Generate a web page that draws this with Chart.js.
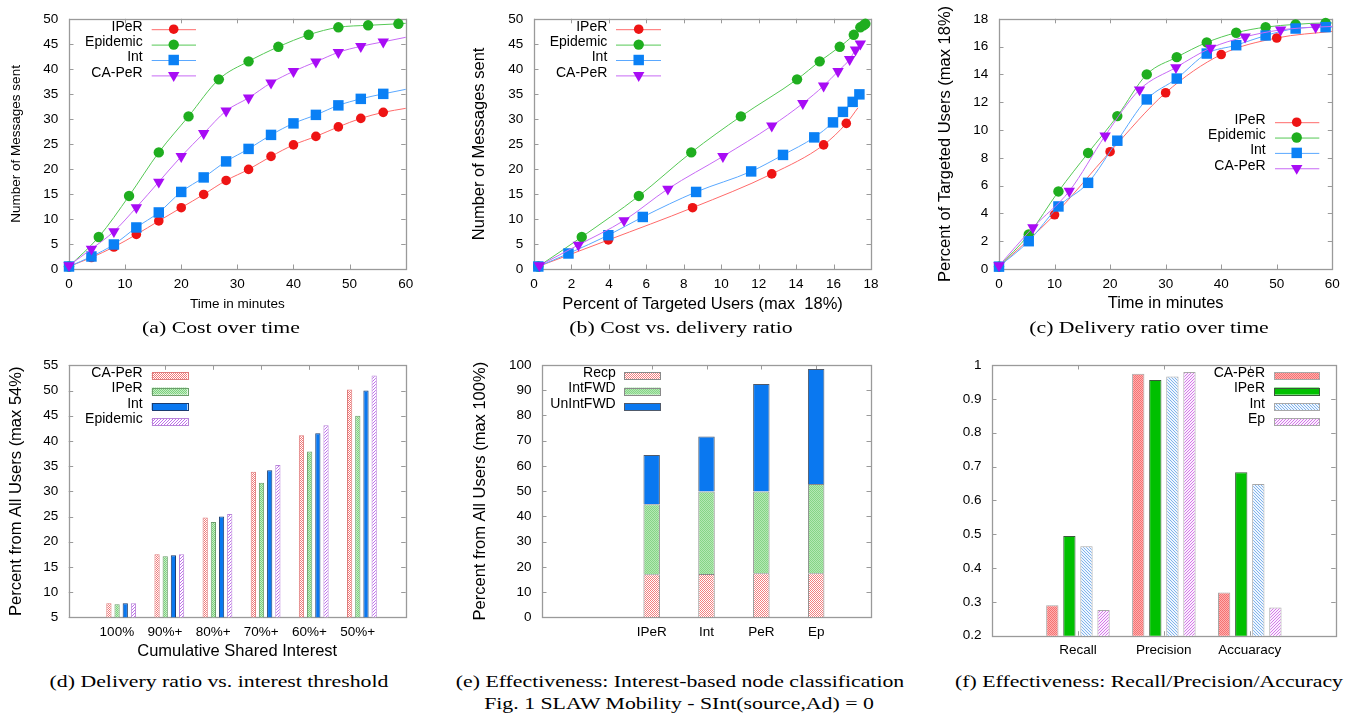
<!DOCTYPE html>
<html><head><meta charset="utf-8">
<script src="https://cdn.jsdelivr.net/npm/chart.js@4.4.1/dist/chart.umd.min.js"></script>
<style>
html,body{margin:0;padding:0;background:#fff}
body{width:1347px;height:717px;position:relative;overflow:hidden;font-family:'Liberation Serif','Times New Roman',serif;color:#000}
canvas{position:absolute}
.cap{position:absolute;font-size:17.5px;line-height:20px;white-space:nowrap;transform:translateX(-50%) scaleX(1.245);transform-origin:50% 50%}
</style></head><body>
<canvas id="pa" width="450" height="320" style="left:0;top:0"></canvas>
<canvas id="pb" width="450" height="320" style="left:450px;top:0"></canvas>
<canvas id="pc" width="447" height="320" style="left:900px;top:0"></canvas>
<canvas id="pd" width="450" height="330" style="left:0;top:340px"></canvas>
<canvas id="pe" width="450" height="330" style="left:450px;top:340px"></canvas>
<canvas id="pf" width="447" height="330" style="left:900px;top:340px"></canvas>
<div class="cap" style="left:221px;top:317px">(a) Cost over time</div>
<div class="cap" style="left:681px;top:317px">(b) Cost vs. delivery ratio</div>
<div class="cap" style="left:1149px;top:317px">(c) Delivery ratio over time</div>
<div class="cap" style="left:219px;top:671px">(d) Delivery ratio vs. interest threshold</div>
<div class="cap" style="left:680px;top:671px">(e) Effectiveness: Interest-based node classification</div>
<div class="cap" style="left:1149px;top:671px">(f) Effectiveness: Recall/Precision/Accuracy</div>
<div class="cap" style="left:679px;top:693px">Fig. 1 SLAW Mobility - SInt(source,Ad) = 0</div>
<script>
// ---------------- DATA ----------------
// (a) Cost over time  (x: minutes, y: number of messages sent)
const aIPeRX = [0,4,8,12,16,20,24,28,32,36,40,44,48,52,56,60];
const aIPeRY = [0.5,2.3,4.4,6.9,9.6,12.25,14.9,17.7,19.9,22.5,24.8,26.5,28.4,30.1,31.3,32.1];
const aEpiX  = [0,5.3,10.7,16,21.3,26.7,32,37.3,42.7,48,53.3,58.7,60];
const aEpiY  = [0.5,6.4,14.6,23.3,30.5,37.9,41.5,44.4,46.8,48.3,48.7,49.0,49.1];
const aIntX  = [0,4,8,12,16,20,24,28,32,36,40,44,48,52,56,60];
const aIntY  = [0.5,2.5,4.9,8.3,11.3,15.4,18.3,21.5,24.0,26.8,29.1,30.8,32.7,34.0,35.0,35.9];
const aCAX   = [0,4,8,12,16,20,24,28,32,36,40,44,48,52,56,60];
const aCAY   = [0.7,4.0,7.5,12.3,17.4,22.5,27.1,31.6,34.2,37.2,39.5,41.4,43.3,44.5,45.4,46.3];
// (b) Cost vs. delivery ratio (x: % targeted users, y: messages sent)
const bIPeRX = [0.23,3.97,8.47,12.7,15.47,16.68,17.3];
const bIPeRY = [0.5,5.8,12.25,19.0,24.8,29.1,32.2];
const bEpiX  = [0.23,2.55,5.6,8.4,11.05,14.05,15.26,16.33,17.08,17.43,17.6,17.7];
const bEpiY  = [0.5,6.4,14.6,23.3,30.5,37.9,41.5,44.4,46.8,48.3,48.7,49.0];
const bIntX  = [0.23,1.84,3.97,5.81,8.66,11.6,13.3,14.97,15.97,16.5,17.02,17.38];
const bIntY  = [0.5,3.1,6.75,10.4,15.4,19.5,22.8,26.3,29.3,31.4,33.4,34.9];
const bCAX   = [0.29,2.37,4.81,7.15,10.09,12.7,14.36,15.47,16.24,16.86,17.17,17.43];
const bCAY   = [0.7,4.8,9.7,16.0,22.5,28.6,33.1,36.6,39.5,41.9,43.8,45.0];
// (c) Delivery ratio over time (x: minutes, y: % targeted users)
const cIPeRX = [0,10,20,30,40,50,60];
const cIPeRY = [0.17,3.9,8.44,12.68,15.43,16.62,17.1];
const cEpiX  = [0,5.35,10.7,16.04,21.3,26.6,32,37.4,42.7,48,53.4,58.8,60];
const cEpiY  = [0.17,2.48,5.58,8.35,11.0,14.0,15.24,16.3,17.0,17.4,17.6,17.7,17.7];
const cIntX  = [0,5.35,10.7,16.04,21.3,26.6,32,37.4,42.7,48,53.4,58.8,60];
const cIntY  = [0.17,2.0,4.5,6.2,9.23,12.2,13.7,15.5,16.1,16.8,17.3,17.4,17.4];
const cCAX   = [0,6.1,12.65,19.1,25.3,31.85,38.1,44.3,50.7,57,60];
const cCAY   = [0.24,2.98,5.6,9.58,12.9,14.5,15.9,16.7,17.2,17.4,17.45];
// (d) Delivery ratio vs interest threshold
const dCategories = ['100%','90%+','80%+','70%+','60%+','50%+'];
const dCAPeR    = [7.8,17.5,24.8,33.9,41.1,50.2];
const dIPeR     = [7.6,17.1,23.9,31.7,37.9,45.0];
const dInt      = [7.8,17.3,25.0,34.2,41.5,50.0];
const dEpidemic = [7.8,17.5,25.5,35.2,43.1,53.0];
// (e) Interest-based node classification (stacked)
const eCategories = ['IPeR','Int','PeR','Ep'];
const eRecp     = [17.1,17.2,17.5,17.5];
const eIntFWD   = [27.7,32.7,32.4,35.3];
const eUnIntFWD = [19.5,21.8,42.6,45.6];
// (f) Recall / Precision / Accuracy
const fCategories = ['Recall','Precision','Accuaracy'];
const fCAPeR = [0.29,0.974,0.328];
const fIPeR  = [0.495,0.956,0.683];
const fInt   = [0.464,0.966,0.648];
const fEp    = [0.276,0.979,0.283];
// tick values
const aXTicks = [0,10,20,30,40,50,60];
const aYTicks = [0,5,10,15,20,25,30,35,40,45,50];
const bXTicks = [0,2,4,6,8,10,12,14,16,18];
const bYTicks = [0,5,10,15,20,25,30,35,40,45,50];
const cXTicks = [0,10,20,30,40,50,60];
const cYTicks = [0,2,4,6,8,10,12,14,16,18];
const dYTicks = [5,10,15,20,25,30,35,40,45,50,55];
const eYTicks = [0,10,20,30,40,50,60,70,80,90,100];
const fYTicks = [0.2,0.3,0.4,0.5,0.6,0.7,0.8,0.9,1];

// ---------------- STYLE / HELPERS ----------------
const FONT = "'Liberation Sans', Arial, Helvetica, sans-serif";
Chart.defaults.font.family = FONT;
Chart.defaults.color = '#000';
Chart.defaults.animation = false;
const TICK = 13.5;

function makePattern(size, paint){
  const c = document.createElement('canvas'); c.width = c.height = size;
  const g = c.getContext('2d'); paint(g, size);
  return document.createElement('canvas').getContext('2d').createPattern(c, 'repeat');
}
const checker = (bg, fg) => makePattern(2, g => { g.fillStyle = bg; g.fillRect(0,0,2,2); g.fillStyle = fg; g.fillRect(0,0,1,1); g.fillRect(1,1,1,1); });
const diag = (bg, fg, dir, s) => makePattern(s, g => { g.fillStyle = bg; g.fillRect(0,0,s,s); g.fillStyle = fg; for (let i=0;i<s;i++) g.fillRect(dir>0 ? s-1-i : i, i, 1, 1); });

const tickSet = arr => s => { s.ticks = arr.map(v => ({value: v})); };
const fixW = w => s => { s.width = w; };
const fixH = h => s => { s.height = h; };

function framePlugin(xShift){
  return { id:'gpFrame', beforeDatasetsDraw(chart){
    const {ctx, chartArea:a, scales} = chart; const L = 4.5;
    ctx.save(); ctx.strokeStyle = '#9a9a9a'; ctx.lineWidth = 1; ctx.beginPath();
    scales.x.ticks.forEach((t,i) => { const p = Math.round(scales.x.getPixelForTick(i) + (xShift||0)) + 0.5;
      ctx.moveTo(p, a.bottom); ctx.lineTo(p, a.bottom - L); ctx.moveTo(p, a.top); ctx.lineTo(p, a.top + L); });
    scales.y.ticks.forEach((t,i) => { const p = Math.round(scales.y.getPixelForTick(i)) + 0.5;
      ctx.moveTo(a.left, p); ctx.lineTo(a.left + L, p); ctx.moveTo(a.right, p); ctx.lineTo(a.right - L, p); });
    ctx.stroke();
    ctx.lineWidth = 1.3;
    ctx.strokeRect(Math.round(a.left)+0.5, Math.round(a.top)+0.5, Math.round(a.right - a.left), Math.round(a.bottom - a.top));
    ctx.restore();
  }};
}
function legendPlugin(cfg){
  return { id:'gpLegend', afterDraw(chart){
    const {ctx, chartArea:a} = chart;
    chart.data.datasets.forEach((ds, i) => {
      const y = a.top + cfg.y0 + i*cfg.dy;
      ctx.save();
      ctx.font = '14px ' + FONT; ctx.fillStyle = '#000'; ctx.textAlign = 'right'; ctx.textBaseline = 'middle';
      ctx.fillText(ds.label, a.left + cfg.tx, y - 2.5);
      if (cfg.kind === 'line') {
        ctx.strokeStyle = ds.borderColor; ctx.lineWidth = 1;
        ctx.beginPath(); ctx.moveTo(a.left + cfg.x1, y + 0.5); ctx.lineTo(a.left + cfg.x2, y + 0.5); ctx.stroke();
        ctx.fillStyle = ds.pointBackgroundColor; ctx.strokeStyle = ds.pointBackgroundColor;
        Chart.helpers.drawPoint(ctx, {pointStyle: ds.pointStyle, radius: ds.mr, rotation: ds.pointRotation, borderWidth: 0}, a.left + cfg.xm, y);
      } else {
        ctx.fillStyle = ds.backgroundColor; ctx.fillRect(a.left + cfg.x1, y - 3.5, cfg.x2 - cfg.x1, 7);
        ctx.strokeStyle = ds.borderColor; ctx.lineWidth = 1;
        ctx.strokeRect(Math.round(a.left + cfg.x1) + 0.5, Math.round(y - 3.5) + 0.5, Math.round(cfg.x2 - cfg.x1), 7);
      }
      ctx.restore();
    });
  }};
}

const SER = {
  IPeR:  {c:'#ee1414', l:'#ff6a6a', s:'circle', r:4.8, rot:0},
  Epi:   {c:'#1fae1f', l:'#55c855', s:'circle', r:5.2, rot:0},
  Int:   {c:'#0a80f5', l:'#5aa8ff', s:'rect',   r:7.4, rot:0},
  CA:    {c:'#a80cf5', l:'#c76af5', s:'triangle', r:6.6, rot:180}
};
function lineDS(label, key, xs, ys, tail, order){
  const st = SER[key];
  return { label, data: xs.map((x,i) => ({x, y: ys[i]})), borderColor: st.l, borderWidth: 1,
    backgroundColor: st.c, pointBackgroundColor: st.c, pointBorderColor: st.c, pointBorderWidth: 0,
    pointStyle: st.s, mr: st.r, pointRotation: st.rot, order,
    pointRadius: ctx => (tail && ctx.dataIndex === xs.length - 1) ? 0 : st.r,
    pointHoverRadius: st.r, cubicInterpolationMode: 'monotone', clip: false };
}
function lineChart(id, cfg){
  return new Chart(document.getElementById(id), {
    type: 'line',
    data: { datasets: cfg.datasets },
    options: {
      responsive: false, animation: false, events: [],
      layout: { padding: { left: 0, top: cfg.top, right: cfg.right, bottom: 0 } },
      plugins: { legend: {display:false}, tooltip: {enabled:false} },
      scales: {
        x: { type:'linear', min: cfg.xMin, max: cfg.xMax, afterBuildTicks: tickSet(cfg.xTicks), afterFit: fixH(51),
             grid: {display:false, drawTicks:false}, border: {display:false},
             ticks: {padding: 7.2, font:{size: TICK}, maxRotation:0, autoSkip:false},
             title: {display:true, text: cfg.xTitle, font:{size: cfg.tf}, padding:{top:0, bottom: cfg.xtp}} },
        y: { type:'linear', min: cfg.yMin, max: cfg.yMax, afterBuildTicks: tickSet(cfg.yTicks), afterFit: fixW(cfg.yw),
             grid: {display:false, drawTicks:false}, border: {display:false},
             ticks: {padding: 10.7, font:{size: TICK}, autoSkip:false},
             title: {display:true, text: cfg.yTitle, font:{size: cfg.tf}, padding:{top: cfg.ytp, bottom:0}} }
      }
    },
    plugins: [framePlugin(0), legendPlugin(cfg.legend)]
  });
}

// ---------------- (a) ----------------
lineChart('pa', {
  top: 17.3, right: 44.3, yw: 69, tf: 13.5, xtp: 7.6, ytp: 8,
  xMin: 0, xMax: 60, yMin: 0, yMax: 50, xTicks: aXTicks, yTicks: aYTicks,
  xTitle: 'Time in minutes', yTitle: 'Number of Messages sent',
  legend: {kind:'line', tx: 73.7, x1: 82.7, x2: 127, xm: 104.7, y0: 10.4, dy: 15.4},
  datasets: [
    lineDS('IPeR', 'IPeR', aIPeRX, aIPeRY, true, 4),
    lineDS('Epidemic', 'Epi', aEpiX, aEpiY, true, 3),
    lineDS('Int', 'Int', aIntX, aIntY, true, 2),
    lineDS('CA-PeR', 'CA', aCAX, aCAY, true, 1)
  ]
});
// ---------------- (b) ----------------
lineChart('pb', {
  top: 17.3, right: 29, yw: 84, tf: 16.5, xtp: 6.1, ytp: 20,
  xMin: 0, xMax: 18, yMin: 0, yMax: 50, xTicks: bXTicks, yTicks: bYTicks,
  xTitle: 'Percent of Targeted Users (max  18%)', yTitle: 'Number of Messages sent',
  legend: {kind:'line', tx: 73.3, x1: 82, x2: 127, xm: 104.7, y0: 10.4, dy: 15.4},
  datasets: [
    lineDS('IPeR', 'IPeR', bIPeRX, bIPeRY, true, 4),
    lineDS('Epidemic', 'Epi', bEpiX, bEpiY, false, 3),
    lineDS('Int', 'Int', bIntX, bIntY, false, 2),
    lineDS('CA-PeR', 'CA', bCAX, bCAY, false, 1)
  ]
});
// ---------------- (c) ----------------
lineChart('pc', {
  top: 17.3, right: 11.3, yw: 99, tf: 16.5, xtp: 6.8, ytp: 35.8,
  xMin: 0, xMax: 60, yMin: 0, yMax: 18, xTicks: cXTicks, yTicks: cYTicks,
  xTitle: 'Time in minutes', yTitle: 'Percent of Targeted Users (max 18%)',
  legend: {kind:'line', tx: 266.7, x1: 276, x2: 320.3, xm: 297.7, y0: 103.4, dy: 15.35},
  datasets: [
    lineDS('IPeR', 'IPeR', cIPeRX, cIPeRY, true, 4),
    lineDS('Epidemic', 'Epi', cEpiX, cEpiY, true, 3),
    lineDS('Int', 'Int', cIntX, cIntY, true, 2),
    lineDS('CA-PeR', 'CA', cCAX, cCAY, true, 1)
  ]
});

// ---------------- bar helpers ----------------
function barChart(id, cfg){
  const first = cfg.first;
  return new Chart(document.getElementById(id), {
    type: 'bar',
    data: { datasets: cfg.datasets.map(d => Object.assign({
      data: d.values.map((v,i) => ({x: i + first, y: v})), borderWidth: 1,
      categoryPercentage: cfg.cp, barPercentage: cfg.bp, borderSkipped: 'start' }, d)) },
    options: {
      responsive: false, animation: false, events: [],
      layout: { padding: { left: 0, top: cfg.top, right: cfg.right, bottom: 0 } },
      plugins: { legend: {display:false}, tooltip: {enabled:false} },
      scales: {
        x: { type:'linear', min: cfg.xMin, max: cfg.xMax, offset:false, stacked: !!cfg.stacked,
             afterBuildTicks: tickSet(cfg.categories.map((c,i) => i + first)), afterFit: fixH(cfg.xh),
             grid: {display:false, drawTicks:false}, border: {display:false},
             ticks: {padding: cfg.xpad, font:{size: TICK}, maxRotation:0, autoSkip:false, labelOffset: cfg.lo || 0,
                     callback: (v, i) => cfg.categories[i]},
             title: {display: !!cfg.xTitle, text: cfg.xTitle || '', font:{size:16.5}, padding:{top:0, bottom: 9.1}} },
        y: { type:'linear', min: cfg.yTicks[0], max: cfg.yTicks[cfg.yTicks.length-1], stacked: !!cfg.stacked,
             afterBuildTicks: tickSet(cfg.yTicks), afterFit: fixW(cfg.yw),
             grid: {display:false, drawTicks:false}, border: {display:false},
             ticks: {padding: 10.4, font:{size: TICK}, autoSkip:false, callback: v => String(+v.toFixed(2))},
             title: {display: !!cfg.yTitle, text: cfg.yTitle || '', font:{size:16.5}, padding:{top: cfg.ytp || 0, bottom:0}} }
      }
    },
    plugins: [framePlugin(cfg.lo || 0), legendPlugin(cfg.legend)]
  });
}
const pinkChk  = checker('#ffffff', '#f07a7a');
const greenChk = checker('#c4efc4', '#7ccf7c');
const purpDiag = diag('#ffffff', '#c070ec', 1, 3);

// ---------------- (d) ----------------
barChart('pd', {
  top: 25.3, right: 44.3, yw: 68.7, xh: 52.7, xpad: 6.6, ytp: 6.1, first: 1, xMin: -0.09, xMax: 6.91,
  cp: 0.68, bp: 0.64, lo: -4.3, categories: dCategories, yTicks: dYTicks,
  xTitle: 'Cumulative Shared Interest', yTitle: 'Percent from All Users (max 54%)',
  legend: {kind:'box', tx: 74, x1: 83, x2: 118.6, y0: 10.4, dy: 15.4},
  datasets: [
    {label:'CA-PeR', values: dCAPeR, backgroundColor: pinkChk, borderColor: '#e07c7c'},
    {label:'IPeR', values: dIPeR, backgroundColor: greenChk, borderColor: '#6a9c6a'},
    {label:'Int', values: dInt, backgroundColor: '#0a78f0', borderColor: '#1b3c6e'},
    {label:'Epidemic', values: dEpidemic, backgroundColor: purpDiag, borderColor: '#b884d8'}
  ]
});
// ---------------- (e) ----------------
barChart('pe', {
  top: 25, right: 29, yw: 92, xh: 52.7, xpad: 6.9, ytp: 20.8, first: 2, xMin: 0, xMax: 6,
  cp: 0.3, bp: 1, stacked: true, categories: eCategories, yTicks: eYTicks,
  yTitle: 'Percent from All Users (max 100%)',
  legend: {kind:'box', tx: 73.7, x1: 82.3, x2: 118.7, y0: 10.7, dy: 15.4},
  datasets: [
    {label:'Recp', values: eRecp, backgroundColor: checker('#ffffff', '#f28080'), borderColor: '#8a8a8a'},
    {label:'IntFWD', values: eIntFWD, backgroundColor: checker('#b4e8b4', '#86d486'), borderColor: '#8a8a8a'},
    {label:'UnIntFWD', values: eUnIntFWD, backgroundColor: '#0a78f0', borderColor: '#505a6a'}
  ]
});
// ---------------- (f) ----------------
barChart('pf', {
  top: 25, right: 11.3, yw: 92, xh: 34.3, xpad: 6.9, first: 1, xMin: 0, xMax: 4,
  cp: 0.795, bp: 0.72, categories: fCategories, yTicks: fYTicks,
  legend: {kind:'box', tx: 273, x1: 282.3, x2: 327.3, y0: 10.7, dy: 15.4},
  datasets: [
    {label:'CA-PeR', values: fCAPeR, backgroundColor: checker('#ffb0b0', '#f47272'), borderColor: '#a8a8a8'},
    {label:'IPeR', values: fIPeR, backgroundColor: '#00c000', borderColor: '#3a5a3a'},
    {label:'Int', values: fInt, backgroundColor: diag('#eef5ff', '#80b4ea', -1, 3), borderColor: '#a8a8a8'},
    {label:'Ep', values: fEp, backgroundColor: diag('#fbeefe', '#d47ae8', 1, 3), borderColor: '#a8a8a8'}
  ]
});
</script>
</body></html>
